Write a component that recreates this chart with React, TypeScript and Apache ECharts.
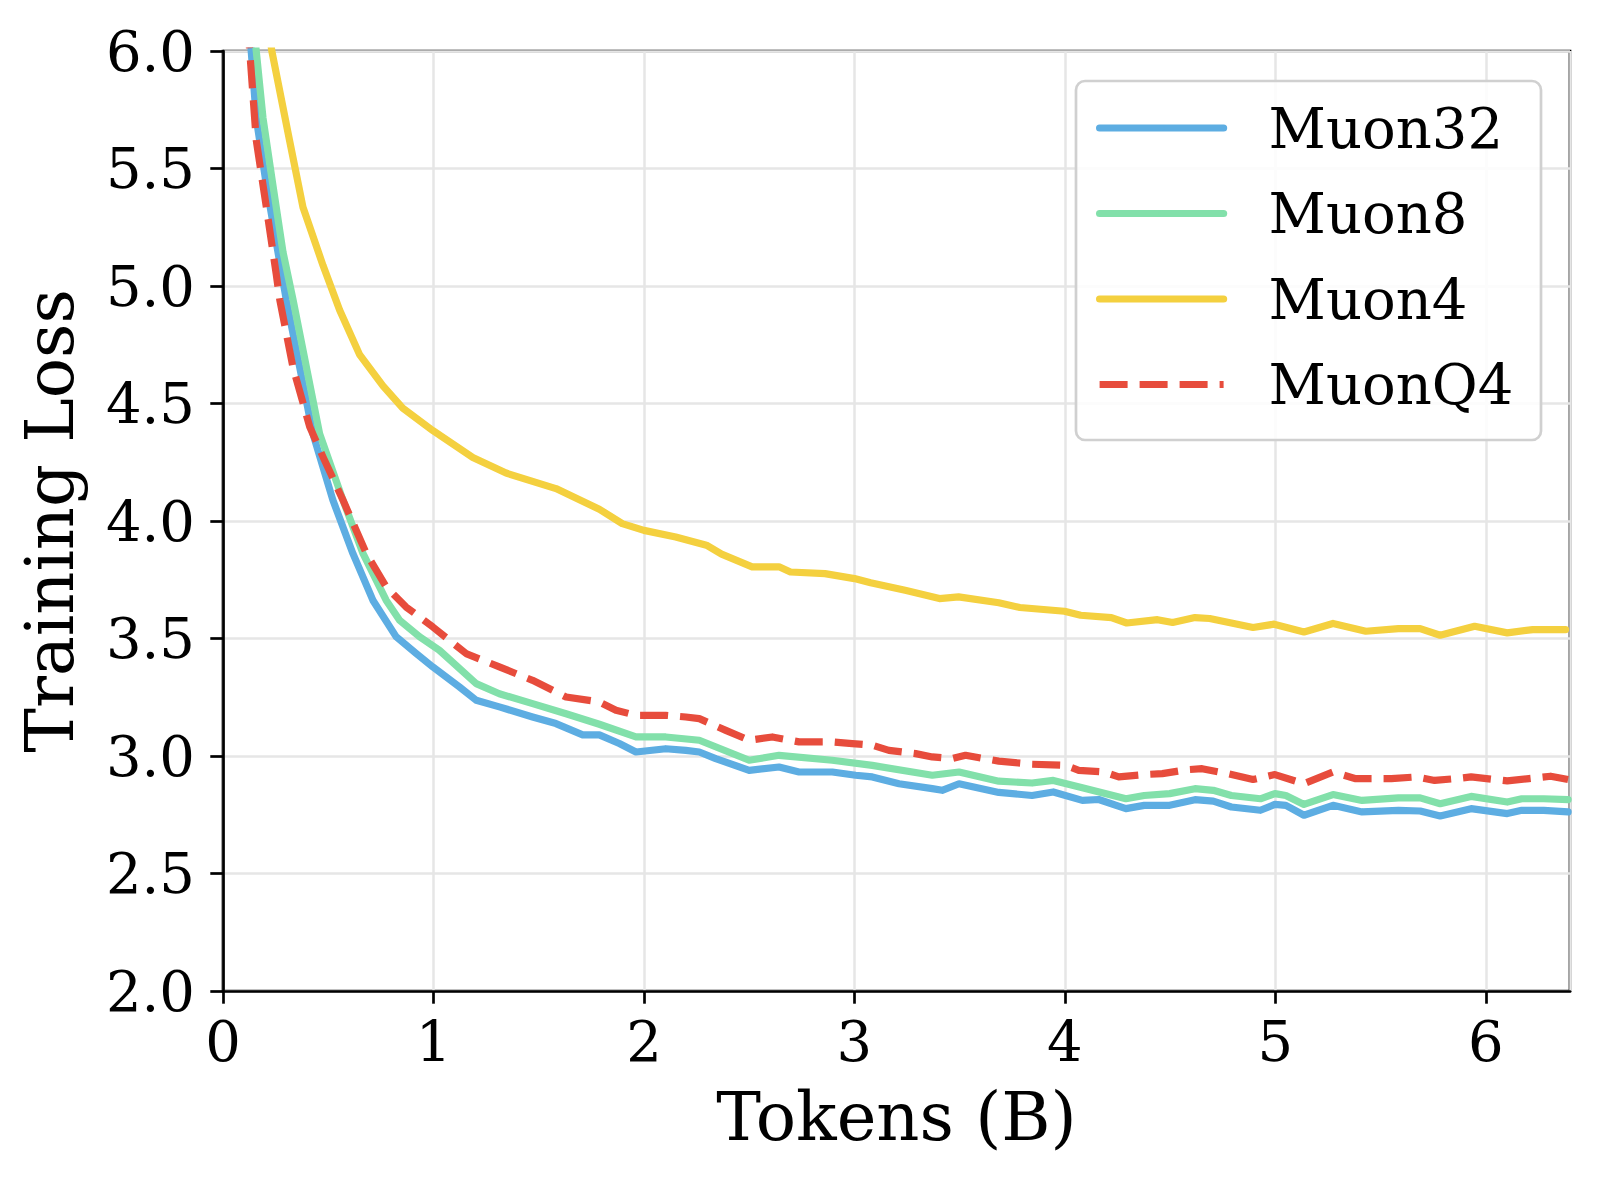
import React, { useEffect, useRef } from "react";
import * as echarts from "echarts";

const seriesNames = ["Muon32", "Muon8", "Muon4", "MuonQ4"];
const colors = ["#5DADE2", "#82E0AA", "#F4D03F", "#E74C3C"];

const muon32X = [0.10, 0.134, 0.158, 0.206, 0.261, 0.301, 0.364, 0.427, 0.522, 0.617, 0.712, 0.823, 0.918, 0.997, 1.123, 1.203, 1.313, 1.471, 1.582, 1.709, 1.788, 1.883, 1.962, 2.104, 2.199, 2.263, 2.341, 2.5, 2.642, 2.737, 2.895, 3.006, 3.085, 3.212, 3.37, 3.417, 3.497, 3.686, 3.844, 3.945, 4.083, 4.161, 4.29, 4.377, 4.498, 4.618, 4.705, 4.791, 4.929, 4.998, 5.05, 5.136, 5.274, 5.412, 5.585, 5.688, 5.783, 5.93, 6.102, 6.171, 6.275, 6.391];
const muon32Y = [6.45, 6.0, 5.715, 5.43, 5.145, 4.94, 4.656, 4.372, 4.089, 3.862, 3.663, 3.507, 3.436, 3.379, 3.294, 3.237, 3.209, 3.166, 3.138, 3.09, 3.09, 3.053, 3.017, 3.031, 3.024, 3.017, 2.989, 2.939, 2.953, 2.932, 2.932, 2.918, 2.911, 2.882, 2.861, 2.854, 2.882, 2.845, 2.832, 2.847, 2.811, 2.815, 2.776, 2.79, 2.79, 2.814, 2.808, 2.783, 2.769, 2.794, 2.79, 2.748, 2.79, 2.762, 2.769, 2.766, 2.745, 2.776, 2.755, 2.769, 2.769, 2.762];

const muon8X = [0.12, 0.158, 0.19, 0.237, 0.285, 0.333, 0.396, 0.459, 0.57, 0.665, 0.775, 0.839, 0.934, 1.028, 1.203, 1.313, 1.471, 1.63, 1.788, 1.962, 2.104, 2.263, 2.5, 2.642, 2.895, 3.085, 3.37, 3.497, 3.686, 3.844, 3.945, 4.083, 4.29, 4.377, 4.498, 4.618, 4.705, 4.791, 4.929, 4.998, 5.05, 5.136, 5.274, 5.412, 5.585, 5.688, 5.783, 5.93, 6.102, 6.171, 6.275, 6.391];
const muon8Y = [6.35, 6.0, 5.715, 5.43, 5.145, 4.94, 4.656, 4.372, 4.089, 3.862, 3.663, 3.578, 3.507, 3.45, 3.308, 3.265, 3.223, 3.18, 3.135, 3.081, 3.081, 3.067, 2.982, 3.003, 2.982, 2.96, 2.918, 2.932, 2.893, 2.885, 2.896, 2.865, 2.818, 2.832, 2.84, 2.861, 2.854, 2.832, 2.818, 2.84, 2.832, 2.794, 2.836, 2.811, 2.822, 2.822, 2.797, 2.828, 2.804, 2.818, 2.818, 2.814];

const muon4X = [0.20, 0.232, 0.316, 0.38, 0.475, 0.554, 0.649, 0.76, 0.854, 0.997, 1.187, 1.345, 1.582, 1.788, 1.897, 2.0, 2.151, 2.297, 2.369, 2.514, 2.642, 2.696, 2.86, 3.0, 3.077, 3.241, 3.404, 3.495, 3.686, 3.786, 3.998, 4.075, 4.221, 4.294, 4.44, 4.512, 4.618, 4.688, 4.894, 4.994, 5.136, 5.274, 5.43, 5.585, 5.688, 5.783, 5.947, 6.102, 6.223, 6.379];
const muon4Y = [6.2, 6.0, 5.62, 5.335, 5.088, 4.898, 4.708, 4.575, 4.48, 4.385, 4.27, 4.204, 4.138, 4.05, 3.989, 3.96, 3.932, 3.897, 3.859, 3.805, 3.805, 3.783, 3.776, 3.755, 3.737, 3.705, 3.67, 3.677, 3.652, 3.632, 3.616, 3.599, 3.589, 3.566, 3.58, 3.568, 3.589, 3.585, 3.547, 3.561, 3.528, 3.564, 3.531, 3.542, 3.542, 3.514, 3.552, 3.524, 3.538, 3.538];

const muonQ4X = [0.10, 0.127, 0.158, 0.206, 0.253, 0.27, 0.332, 0.412, 0.475, 0.57, 0.681, 0.775, 0.87, 0.997, 1.155, 1.313, 1.471, 1.63, 1.788, 1.867, 1.962, 2.104, 2.199, 2.263, 2.389, 2.5, 2.61, 2.737, 2.895, 2.99, 3.085, 3.164, 3.291, 3.37, 3.465, 3.528, 3.686, 3.844, 4.003, 4.066, 4.187, 4.256, 4.377, 4.463, 4.583, 4.652, 4.757, 4.894, 4.998, 5.136, 5.274, 5.378, 5.551, 5.671, 5.757, 5.861, 5.93, 6.102, 6.205, 6.308, 6.391];
const muonQ4Y = [6.3, 6.0, 5.62, 5.335, 5.05, 4.94, 4.656, 4.401, 4.273, 4.089, 3.862, 3.72, 3.634, 3.549, 3.436, 3.379, 3.322, 3.251, 3.23, 3.195, 3.173, 3.173, 3.166, 3.159, 3.109, 3.067, 3.081, 3.06, 3.06, 3.053, 3.046, 3.024, 3.01, 2.996, 2.989, 3.003, 2.978, 2.965, 2.96, 2.939, 2.932, 2.911, 2.921, 2.925, 2.942, 2.946, 2.928, 2.9, 2.921, 2.882, 2.932, 2.904, 2.904, 2.911, 2.896, 2.904, 2.911, 2.894, 2.904, 2.914, 2.9];

const xTicks = [0, 1, 2, 3, 4, 5, 6];
const yTicks = [2.0, 2.5, 3.0, 3.5, 4.0, 4.5, 5.0, 5.5, 6.0];

const xs = [muon32X, muon8X, muon4X, muonQ4X];
const ys = [muon32Y, muon8Y, muon4Y, muonQ4Y];

const FONT = "DejaVu Serif";

export default function App() {
  const ref = useRef<HTMLDivElement>(null);
  useEffect(() => {
    if (!ref.current) return;
    const chart = echarts.init(ref.current, null, { renderer: "svg" });
    const series = seriesNames.map((name, i) => ({
      name,
      type: "line",
      data: xs[i].map((x, j) => [x, ys[i][j]]),
      showSymbol: false,
      symbol: "none",
      clip: true,
      z: 2 + i,
      lineStyle: {
        color: colors[i],
        width: 7.2,
        type: name === "MuonQ4" ? [28, 12] : "solid",
        cap: name === "MuonQ4" ? "butt" : "round",
        join: "round",
      },
      itemStyle: { color: colors[i] },
    }));
    chart.setOption({
      animation: false,
      backgroundColor: "#ffffff",
      grid: {
        left: 223,
        top: 51,
        width: 1347,
        height: 940,
        show: true,
        borderColor: "#000000",
        borderWidth: 2.7,
        backgroundColor: "transparent",
      },
      xAxis: {
        type: "value",
        min: 0,
        max: 6.4,
        interval: 1,
        name: "Tokens (B)",
        nameLocation: "middle",
        nameGap: 92,
        nameTextStyle: { fontFamily: FONT, fontSize: 67, color: "#000" },
        axisLine: { show: true, lineStyle: { color: "#000", width: 2.7 } },
        axisTick: { show: true, length: 12.7, inside: false, lineStyle: { color: "#000", width: 2.7 } },
        axisLabel: {
          showMaxLabel: false,
          margin: 22,
          fontFamily: FONT,
          fontSize: 56,
          color: "#000",
          formatter: (v: number) => (xTicks.includes(v) ? String(v) : ""),
        },
        splitLine: { show: true, lineStyle: { color: "#e6e6e6", width: 2.5 } },
      },
      yAxis: {
        type: "value",
        min: 2,
        max: 6,
        interval: 0.5,
        name: "Training Loss",
        nameLocation: "middle",
        nameGap: 140,
        nameRotate: 90,
        nameTextStyle: { fontFamily: FONT, fontSize: 67, color: "#000" },
        axisLine: { show: true, lineStyle: { color: "#000", width: 2.7 } },
        axisTick: { show: true, length: 12.7, inside: false, lineStyle: { color: "#000", width: 2.7 } },
        axisLabel: {
          margin: 28,
          fontFamily: FONT,
          fontSize: 56,
          color: "#000",
          formatter: (v: number) => (yTicks.includes(v) ? v.toFixed(1) : ""),
        },
        splitLine: { show: true, lineStyle: { color: "#e6e6e6", width: 2.5 } },
      },
      graphic: [
        {
          type: "rect",
          z: 50,
          shape: { x: 1076, y: 81, width: 465, height: 359, r: 9 },
          style: { fill: "rgba(255,255,255,0.85)", stroke: "#d0d0d0", lineWidth: 2.7 },
        },
      ],
      legend: {
        z: 60,
        orient: "vertical",
        left: 1096,
        top: 100,
        padding: 0,
        itemWidth: 124,
        itemHeight: 7,
        itemGap: 29.5,
        data: seriesNames,
        lineStyle: { width: 7.2 },
        textStyle: {
          fontFamily: FONT,
          fontSize: 56,
          lineHeight: 56,
          color: "#000",
          padding: [0, 0, 0, 40],
        },
      },
      series,
    });
    return () => chart.dispose();
  }, []);
  return (
    <div
      ref={ref}
      style={{ position: "absolute", left: 0, top: 0, width: 1600, height: 1178, background: "#fff" }}
    />
  );
}
